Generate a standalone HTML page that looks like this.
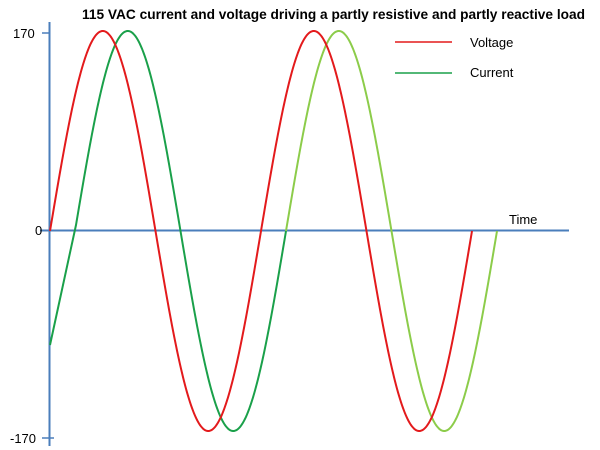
<!DOCTYPE html>
<html><head><meta charset="utf-8"><style>
html,body{margin:0;padding:0;background:#fff;}
svg{display:block;}
text{font-family:"Liberation Sans",sans-serif;}
</style></head><body>
<svg id="s" width="600" height="450" viewBox="0 0 600 450">
<text x="82" y="19" font-size="14" font-weight="bold" fill="#000" textLength="503" lengthAdjust="spacingAndGlyphs">115 VAC current and voltage driving a partly resistive and partly reactive load</text>
<line x1="49.5" y1="22" x2="49.5" y2="446" stroke="#4a7ebb" stroke-width="2"/>
<line x1="40" y1="230.5" x2="569" y2="230.5" stroke="#4a7ebb" stroke-width="2"/>
<line x1="42" y1="33" x2="50" y2="33" stroke="#4a7ebb" stroke-width="1.5"/>
<line x1="42" y1="438" x2="54" y2="438" stroke="#4a7ebb" stroke-width="1.5"/>
<text x="13" y="38" font-size="13">170</text>
<text x="35" y="235" font-size="13">0</text>
<text x="10" y="443" font-size="13">-170</text>
<text x="509" y="224" font-size="13">Time</text>
<line x1="395" y1="42" x2="452" y2="42" stroke="#e31a1c" stroke-width="1.5"/>
<text x="470" y="47" font-size="13">Voltage</text>
<line x1="395" y1="73" x2="452" y2="73" stroke="#1aa04a" stroke-width="1.5"/>
<text x="470" y="77" font-size="13">Current</text>
<path id="g1" fill="none" stroke="#1aa04a" stroke-width="2"/>
<path id="g2" fill="none" stroke="#8ccc4a" stroke-width="2"/>
<path id="r" fill="none" stroke="#e31a1c" stroke-width="2"/>
</svg>
<script>
var P=211,A=200,Y=231;
function f(x0,a,b){var d="";for(var x=a;x<=b+0.01;x+=1){var y=Y-A*Math.sin(2*Math.PI*(x-x0)/P);d+=(d?"L":"M")+x.toFixed(1)+","+y.toFixed(1);}return d;}
document.getElementById("r").setAttribute("d",f(50,50,472));
document.getElementById("g1").setAttribute("d","M50,345L"+f(75,76,286).slice(1));
document.getElementById("g2").setAttribute("d",f(75,286,497));
</script>
</body></html>
